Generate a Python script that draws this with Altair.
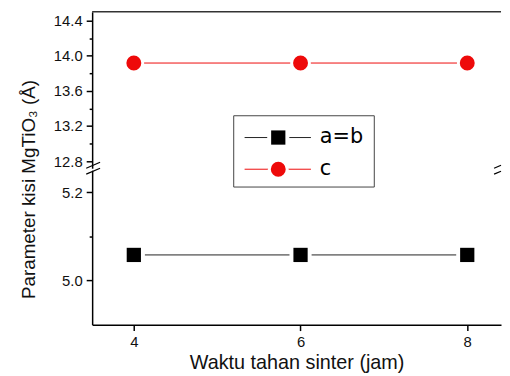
import altair as alt
import pandas as pd

# ---- data ----
hours = [4, 6, 8]
a_equals_b = [5.058, 5.058, 5.058]
c_param = [13.917, 13.917, 13.917]
series_labels = ["a=b", "c"]
upper_ticks = [12.8, 13.0, 13.2, 13.4, 13.6, 13.8, 14.0, 14.2, 14.4]
lower_ticks = [5.0, 5.1, 5.2]
x_ticks = [4, 6, 8]
x_title = "Waktu tahan sinter (jam)"
y_title = "Parameter kisi MgTiO\u2083 (\u00c5)"

df_ab = pd.DataFrame({"jam": hours, "val": a_equals_b})
df_c = pd.DataFrame({"jam": hours, "val": c_param})
one = pd.DataFrame({"k": [0]})

W = 413
H_UP = 158
H_LO = 156
FONT = "Liberation Sans"
RED = "#ee0a0a"
BLACK = "#000000"

x_scale = alt.Scale(domain=[3.5, 8.405], nice=False, zero=False)
y_up_scale = alt.Scale(domain=[12.72, 14.5], nice=False, zero=False)
y_lo_scale = alt.Scale(domain=[4.9, 5.25], nice=False, zero=False)

common_axis = dict(
    grid=False, domainColor=BLACK, domainWidth=1.5, tickColor=BLACK,
    tickWidth=1.5, labelFont=FONT, labelFontSize=15, labelColor="#111111",
    labelPadding=4, titleFont=FONT, titleColor="#111111", titleFontWeight="normal",
)

y_up_axis = alt.Axis(
    values=upper_ticks, title=None,
    labelExpr="round(datum.value*5)%2==0 ? format(datum.value,'.1f') : ''",
    tickSize={"condition": {"test": "round(datum.value*5)%2==0", "value": 6}, "value": 3},
    **common_axis,
)
y_lo_axis = alt.Axis(
    values=lower_ticks, title=y_title, titleFontSize=19, titleY=19, titleX=-54,
    titleBaseline="bottom",
    labelExpr="round(datum.value*10)%2==0 ? format(datum.value,'.1f') : ''",
    tickSize={"condition": {"test": "round(datum.value*10)%2==0", "value": 6}, "value": 3},
    **common_axis,
)
x_axis = alt.Axis(values=x_ticks, format="d", tickSize=6, title=x_title,
                  titleFontSize=20, titlePadding=3, **common_axis)

# ---- upper panel (c) ----
xu = alt.X("jam:Q", scale=x_scale, axis=None)
yu = alt.Y("val:Q", scale=y_up_scale, axis=y_up_axis)
base_up = alt.Chart(df_c).encode(x=xu, y=yu)
upper = alt.layer(
    base_up.mark_line(color=RED, strokeWidth=1),
    base_up.mark_point(shape="circle", filled=True, opacity=1, color="white", size=440),
    base_up.mark_point(shape="circle", filled=True, opacity=1, color=RED, size=227),
    alt.Chart(one).mark_rule(color="#333333", strokeWidth=1.5).encode(
        x=alt.value(0), x2=alt.value(W), y=alt.value(0)),
).properties(width=W, height=H_UP)

# ---- lower panel (a=b) ----
xl = alt.X("jam:Q", scale=x_scale, axis=x_axis)
yl = alt.Y("val:Q", scale=y_lo_scale, axis=y_lo_axis)
base_lo = alt.Chart(df_ab).encode(x=xl, y=yl)

legend_layers = [
    alt.Chart(one).mark_rect(fill="white", stroke="#444444", strokeWidth=1).encode(
        x=alt.value(143), x2=alt.value(285), y=alt.value(-55), y2=alt.value(17)),
]
rows = [(series_labels[0], -33, BLACK, "square", 207, 500, "#222222"),
        (series_labels[1], -1, RED, "circle", 227, 440, RED)]
for label, yy, col, shp, sz, halo, lcol in rows:
    legend_layers += [
        alt.Chart(one).mark_rule(color=lcol, strokeWidth=1).encode(
            x=alt.value(154), x2=alt.value(221), y=alt.value(yy)),
        alt.Chart(one).mark_point(shape=shp, filled=True, opacity=1, color="white", size=halo).encode(
            x=alt.value(188), y=alt.value(yy)),
        alt.Chart(one).mark_point(shape=shp, filled=True, opacity=1, color=col, size=sz).encode(
            x=alt.value(188), y=alt.value(yy)),
        alt.Chart(pd.DataFrame({"label": [label]})).mark_text(
            font="DejaVu Sans", fontSize=21, align="left", baseline="middle", color=BLACK).encode(
            x=alt.value(230), y=alt.value(yy), text="label:N"),
    ]

# axis-break marks: full pair on the left axis, the visible fragment on the right edge
breaks = []
for dy in [0, 6]:
    breaks.append(alt.Chart(one).mark_rule(color=BLACK, strokeWidth=1.2).encode(
        x=alt.value(-6), x2=alt.value(8), y=alt.value(-2 + dy), y2=alt.value(-8 + dy)))
    breaks.append(alt.Chart(one).mark_rule(color=BLACK, strokeWidth=1.2).encode(
        x=alt.value(W - 7), x2=alt.value(W), y=alt.value(-2 + dy), y2=alt.value(-5 + dy)))

lower = alt.layer(
    base_lo.mark_line(color="#222222", strokeWidth=1),
    base_lo.mark_point(shape="square", filled=True, opacity=1, color="white", size=500),
    base_lo.mark_point(shape="square", filled=True, opacity=1, color=BLACK, size=207),
    *legend_layers,
    *breaks,
).properties(width=W, height=H_LO)

chart = alt.vconcat(upper, lower, spacing=2, bounds="flush").properties(
    padding={"left": 11, "top": 1, "right": 0, "bottom": 0},
).configure(background="white").configure_view(strokeWidth=0, stroke="transparent")

chart.save("out.html", embed_options={"renderer": "svg", "actions": False})
